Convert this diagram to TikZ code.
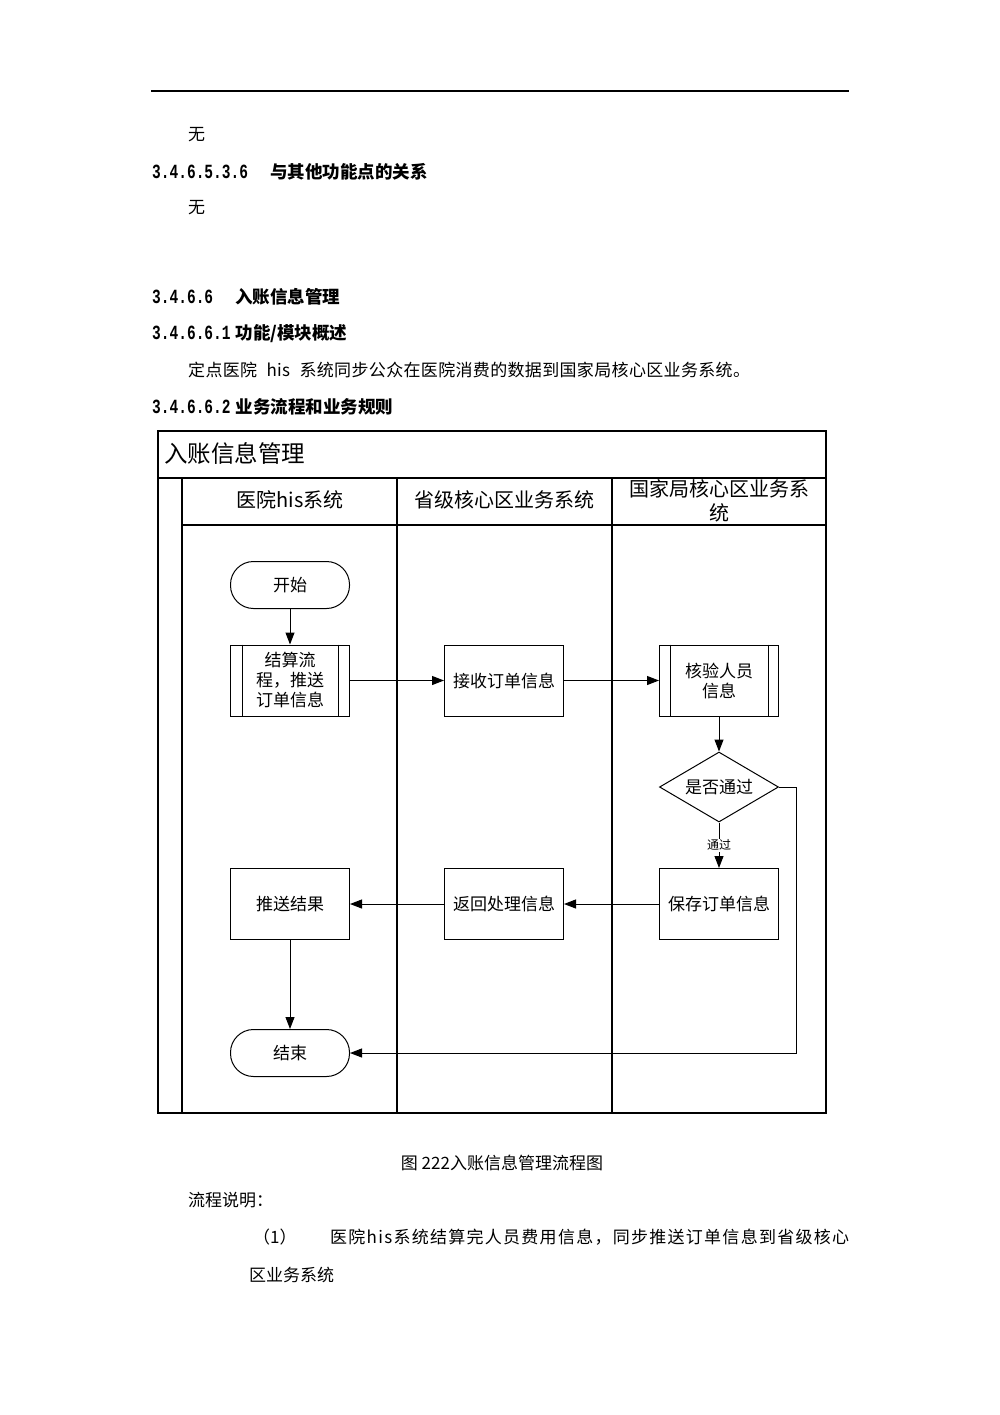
\documentclass[tikz,border=0pt]{standalone}
\usepackage{graphicx}
\usepackage{fontspec}
\setmainfont{Noto Sans CJK SC}
\newfontfamily\digfont{Liberation Mono}
\newcommand{\hdnum}[1]{\scalebox{0.83}[1.15]{\digfont\bfseries #1}}
\usetikzlibrary{shapes.geometric,arrows.meta}
\begin{document}
\begin{tikzpicture}[x=1pt,y=-1pt,
  body/.style={anchor=west, inner sep=0pt, font=\fontsize{17}{19}\selectfont},
  head/.style={anchor=west, inner sep=0pt, font=\fontsize{17.5}{19}\selectfont\bfseries},
  lanehead/.style={inner sep=0pt, align=center, font=\fontsize{20}{24}\selectfont},
  box/.style={draw, line width=1pt, minimum width=119pt, minimum height=71pt, inner sep=1pt, align=center, font=\fontsize{17}{20}\selectfont},
  term/.style={draw, line width=1pt, minimum width=119pt, minimum height=47pt, rounded corners=23pt, inner sep=0pt, font=\fontsize{17}{20}\selectfont},
  decision/.style={draw, diamond, line width=1pt, minimum width=119pt, minimum height=70pt, aspect=1.7, inner sep=0pt, font=\fontsize{17}{20}\selectfont},
  frame/.style={line width=1.2pt},
  conn/.style={line width=1pt, -{Triangle[length=12pt,width=9pt]}},
  inner/.style={line width=1pt}
]
\fill[white] (0,0) rectangle (1000,1415);
\useasboundingbox (0,0) rectangle (1000,1415);

% header rule
\coordinate (r1) at (151,91);
\coordinate (r2) at (849,91);
\draw[line width=1.2pt] (r1) -- (r2);

% text above
\node[body] (t1) at (188,135) {无};
\node[head] (t2) at (152,172) {\hdnum{3.4.6.5.3.6}\hspace{22pt}与其他功能点的关系};
\node[body] (t3) at (188,208) {无};
\node[head] (t4) at (152,297) {\hdnum{3.4.6.6}\hspace{22pt}入账信息管理};
\node[head] (t5) at (152,334) {\hdnum{3.4.6.6.1}\hspace{5pt}功能/模块概述};
\node[body] (t6) at (188,370) {\addfontfeature{LetterSpace=2}定点医院\hspace{0.55em}his\hspace{0.55em}系统同步公众在医院消费的数据到国家局核心区业务系统。};
\node[head] (t7) at (152,407) {\hdnum{3.4.6.6.2}\hspace{5pt}业务流程和业务规则};

% swimlane frame
\draw[frame] (158,431) rectangle (826,1113);
\draw[frame] (158,478) -- (826,478);
\draw[frame] (182,478) -- (182,1113);
\draw[frame] (182,525) -- (826,525);
\draw[frame] (397,478) -- (397,1113);
\draw[frame] (612,478) -- (612,1113);

\node[anchor=west, inner sep=0pt, font=\fontsize{23.5}{26}\selectfont] (title) at (164,454) {入账信息管理};
\node[lanehead] (h1) at (290,500) {医院his系统};
\node[lanehead] (h2) at (504,500) {省级核心区业务系统};
\node[lanehead] (h3) at (719,501) {国家局核心区业务系\\统};

% shapes
\node[term] (start) at (290,585) {开始};
\node[box] (p1) at (290,680.5) {结算流\\程，推送\\订单信息};
\draw[inner] ([xshift=12pt]p1.north west) -- ([xshift=12pt]p1.south west);
\draw[inner] ([xshift=-12pt]p1.north east) -- ([xshift=-12pt]p1.south east);
\node[box] (recv) at (504,680.5) {接收订单信息};
\node[box] (chk) at (719,680.5) {核验人员\\信息};
\draw[inner] ([xshift=11pt]chk.north west) -- ([xshift=11pt]chk.south west);
\draw[inner] ([xshift=-11pt]chk.north east) -- ([xshift=-11pt]chk.south east);
\node[decision] (dec) at (719,787) {是否通过};
\node[box] (save) at (719,904) {保存订单信息};
\node[box] (ret) at (504,904) {返回处理信息};
\node[box] (push) at (290,904) {推送结果};
\node[term] (end) at (290,1053) {结束};

% connectors
\draw[conn] (start) -- (p1);
\draw[conn] (p1) -- (recv);
\draw[conn] (recv) -- (chk);
\draw[conn] (chk) -- (dec);
\draw[conn] (dec) -- node[fill=white, inner sep=1pt, font=\fontsize{12}{14}\selectfont, pos=0.5] (lbl) {通过} (save);
\draw[conn] (save) -- (ret);
\draw[conn] (ret) -- (push);
\draw[conn] (push) -- (end);
\coordinate (c1) at (796,787);
\draw[conn] (dec.east) -- (c1) |- (end.east);

% caption and text below
\node[inner sep=0pt, font=\fontsize{17}{19}\selectfont] (cap) at (502,1163) {图 222入账信息管理流程图};
\node[body] (t8) at (188,1200) {流程说明：};
\node[body] (t9) at (253,1237) {（1）};
\node[body] (t10) at (330,1237) {\addfontfeature{LetterSpace=7.5}医院his系统结算完人员费用信息，同步推送订单信息到省级核心};
\node[body] (t11) at (249,1275) {区业务系统};
\end{tikzpicture}
\end{document}
